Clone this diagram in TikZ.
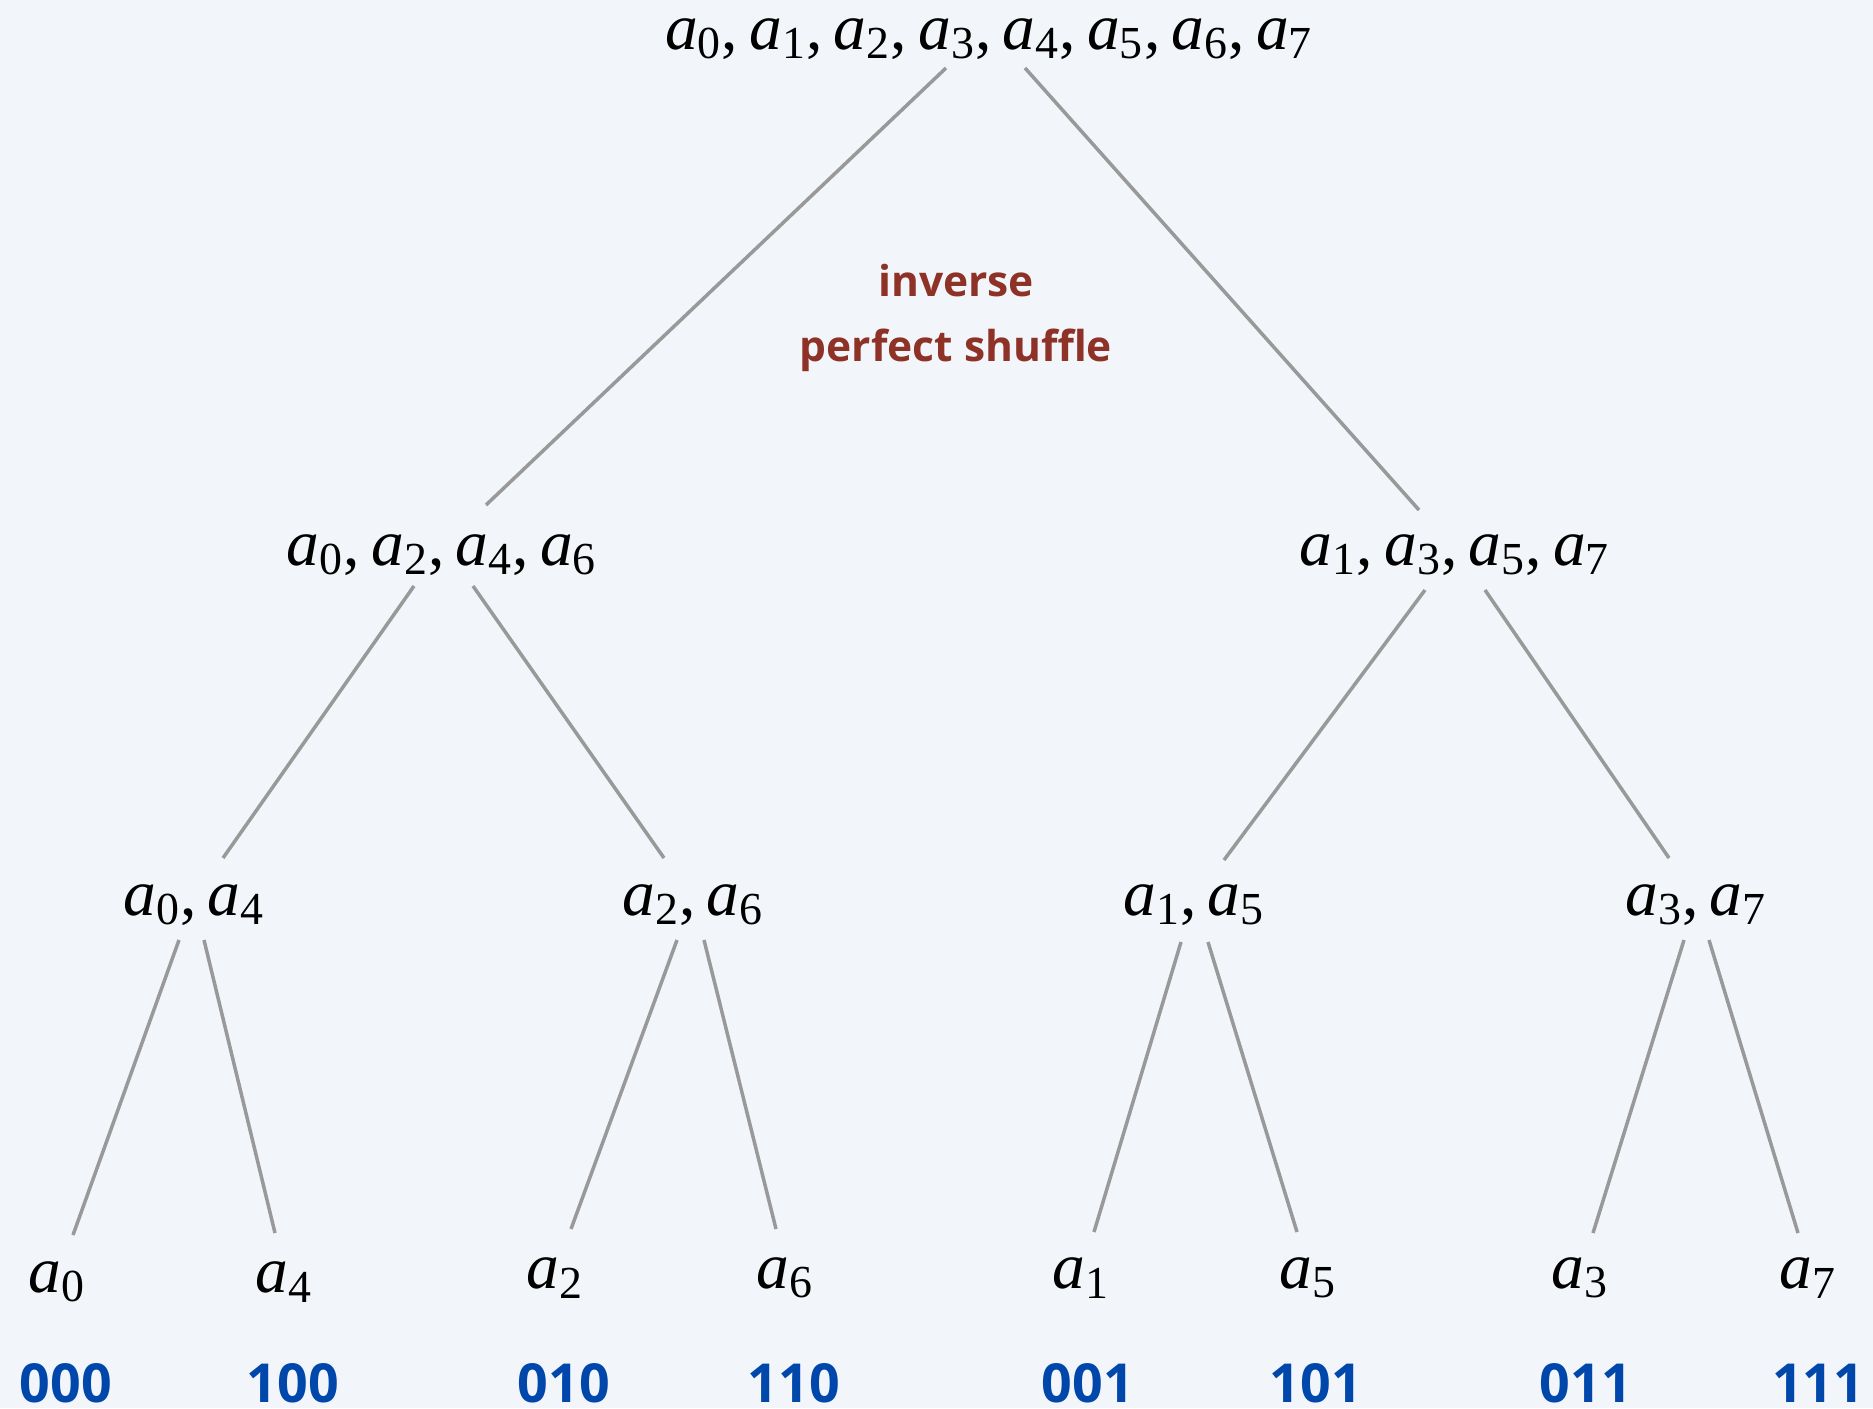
\documentclass[tikz,border=0pt]{standalone}
\usepackage{fontspec}
\setmainfont{Liberation Serif}
\newfontfamily\labfont{Open Sans}
\usetikzlibrary{calc}
\definecolor{bgc}{HTML}{F2F5F9}
\definecolor{edgec}{HTML}{999999}
\definecolor{redc}{HTML}{8E3126}
\definecolor{bluec}{HTML}{0047AB}
\newcommand\av[1]{\textit{a}\textsubscript{#1}}
\newcommand\cm{,\kern0.17em}
\tikzset{
  elem/.style={inner sep=0pt, font=\fontsize{26.2}{31}\selectfont},
  bits/.style={inner sep=0pt, text=bluec, font=\labfont\bfseries\fontsize{21.5}{25}\selectfont},
  note/.style={inner sep=0pt, text=redc, align=center, font=\labfont\bfseries\fontsize{17}{26}\selectfont},
  edge/.style={draw=edgec, line width=1.4pt}
}
\newcommand\edge[6]{\draw[edge] ($(#1)+(#2,#3)$) -- ($(#4)+(#5,#6)$);}
\begin{document}
\begin{tikzpicture}[x=0.4pt,y=-0.4pt]
\fill[bgc] (0,0) rectangle (1873,1408);
\useasboundingbox (0,0) rectangle (1873,1408);
% nodes
\node[elem] (r) at (989,39) {\av0\cm\av1\cm\av2\cm\av3\cm\av4\cm\av5\cm\av6\cm\av7};
\node[elem] (L) at (442,555) {\av0\cm\av2\cm\av4\cm\av6};
\node[elem] (R) at (1455,555) {\av1\cm\av3\cm\av5\cm\av7};
\node[elem] (LL) at (194,905) {\av0\cm\av4};
\node[elem] (LR) at (693,905) {\av2\cm\av6};
\node[elem] (RL) at (1194,905) {\av1\cm\av5};
\node[elem] (RR) at (1696,905) {\av3\cm\av7};
\node[elem] (l0) at (57,1282) {\av0};
\node[elem] (l4) at (284,1282) {\av4};
\node[elem] (l2) at (555,1278) {\av2};
\node[elem] (l6) at (785,1278) {\av6};
\node[elem] (l1) at (1081,1278) {\av1};
\node[elem] (l5) at (1308,1278) {\av5};
\node[elem] (l3) at (1580,1278) {\av3};
\node[elem] (l7) at (1808,1278) {\av7};
\node[bits] (b0) at (66,1383) {000};
\node[bits] (b4) at (293,1383) {100};
\node[bits] (b2) at (564,1383) {010};
\node[bits] (b6) at (794,1383) {110};
\node[bits] (b1) at (1088,1383) {001};
\node[bits] (b5) at (1316,1383) {101};
\node[bits] (b3) at (1586,1383) {011};
\node[bits] (b7) at (1818,1383) {111};
\node[note] (ips) at (956,318) {inverse\\perfect shuffle};
% edges
\edge{r}{-43}{29}{L}{44}{-50}
\edge{r}{36}{29}{R}{-36}{-45}
\edge{L}{-28}{31}{LL}{29}{-47}
\edge{L}{31}{31}{LR}{-29}{-47}
\edge{R}{-30}{35}{RL}{30}{-45}
\edge{R}{30}{35}{RR}{-27}{-47}
\edge{LL}{-15}{35}{l0}{16}{-47}
\edge{LL}{10}{35}{l4}{-9}{-49}
\edge{LR}{-16}{35}{l2}{16}{-49}
\edge{LR}{11}{35}{l6}{-9}{-49}
\edge{RL}{-13}{37}{l1}{13}{-46}
\edge{RL}{14}{37}{l5}{-11}{-46}
\edge{RR}{-12}{35}{l3}{13}{-45}
\edge{RR}{13}{35}{l7}{-10}{-45}
\end{tikzpicture}
\end{document}
